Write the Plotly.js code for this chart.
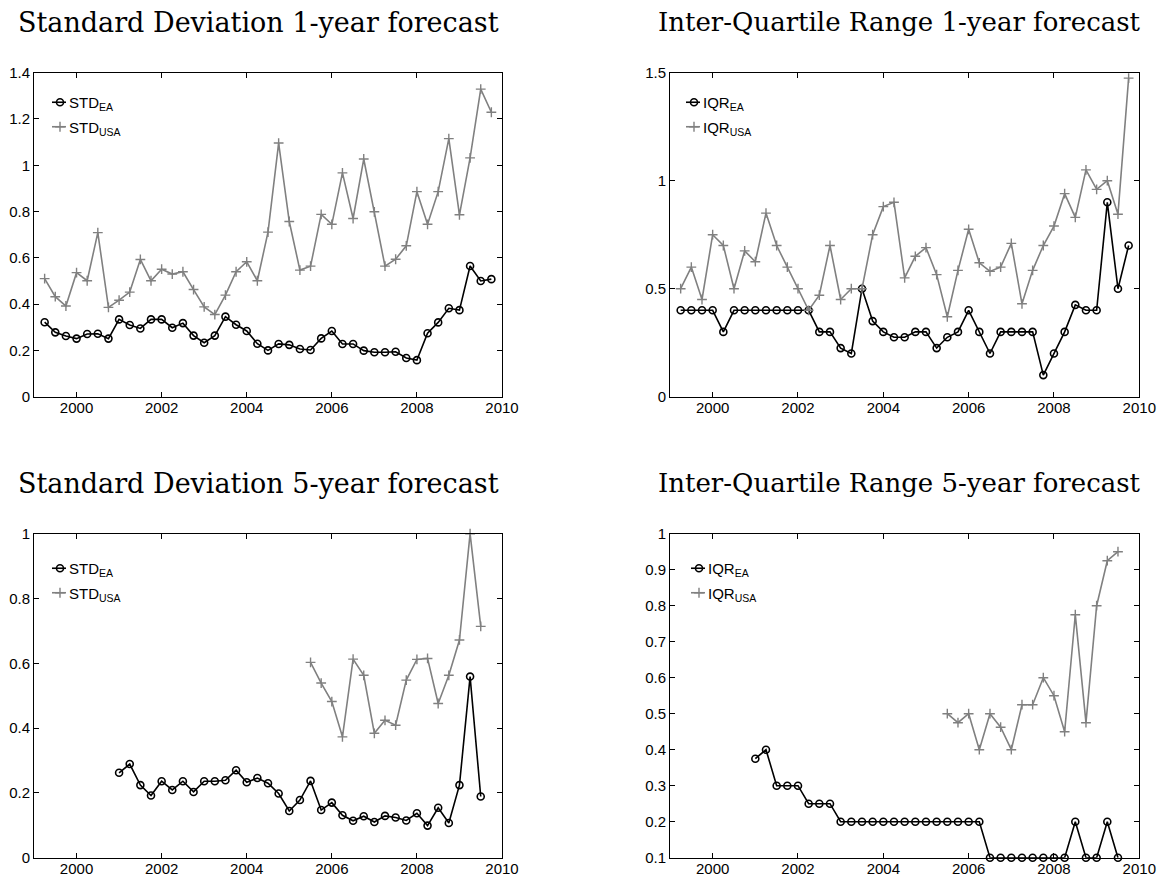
<!DOCTYPE html>
<html><head><meta charset="utf-8">
<script src="https://cdn.plot.ly/plotly-3.0.1.min.js"></script>
<style>body{margin:0;background:#fff}#c{width:1165px;height:877px}</style>
</head><body><div id="c"></div>
<script>
var quarters = [1999.25,1999.5,1999.75,2000,2000.25,2000.5,2000.75,2001,2001.25,2001.5,2001.75,
2002,2002.25,2002.5,2002.75,2003,2003.25,2003.5,2003.75,2004,2004.25,2004.5,2004.75,
2005,2005.25,2005.5,2005.75,2006,2006.25,2006.5,2006.75,2007,2007.25,2007.5,2007.75,
2008,2008.25,2008.5,2008.75,2009,2009.25,2009.5,2009.75];

var std1_ea = [0.322,0.278,0.262,0.251,0.271,0.272,0.251,0.334,0.310,0.295,0.334,0.334,0.298,0.318,0.264,0.233,0.264,0.346,0.311,0.284,0.229,0.200,0.228,
0.224,0.206,0.202,0.252,0.284,0.228,0.228,0.199,0.192,0.192,0.194,0.167,0.158,0.274,0.321,0.382,0.374,0.565,0.500,0.508];
var std1_usa = [0.510,0.432,0.392,0.536,0.501,0.709,0.386,0.417,0.452,0.593,0.501,0.551,0.530,0.540,0.463,0.388,0.355,0.439,0.540,0.583,0.501,0.711,1.096,
0.757,0.547,0.564,0.788,0.745,0.967,0.770,1.027,0.799,0.564,0.594,0.652,0.886,0.745,0.886,1.115,0.786,1.032,1.329,1.229];

var iqr1_ea = [0.4,0.4,0.4,0.4,0.3,0.4,0.4,0.4,0.4,0.4,0.4,0.4,0.4,0.3,0.3,0.225,0.2,
0.5,0.35,0.3,0.275,0.275,0.3,0.3,0.225,0.275,0.3,0.4,0.3,0.2,0.3,0.3,0.3,0.3,0.1,0.2,0.3,0.425,0.4,0.4,0.9,0.5,0.7];
var iqr1_usa = [0.5,0.6,0.45,0.75,0.7,0.5,0.675,0.625,0.85,0.7,0.6,0.5,0.4,0.47,0.7,0.45,0.5,
0.5,0.75,0.88,0.9,0.55,0.65,0.69,0.565,0.37,0.585,0.775,0.62,0.58,0.6,0.71,0.43,0.585,0.7,0.79,0.94,0.83,1.05,0.96,1.0,0.845,1.475];

// 5-year series start later (index of first value in quarters)
var std5_ea_start = 7;
var std5_ea = [0.262,0.289,0.224,0.192,0.236,0.209,0.236,0.203,0.236,0.236,0.239,0.270,0.233,0.246,0.230,0.198,
0.144,0.178,0.237,0.147,0.170,0.131,0.114,0.128,0.110,0.129,0.124,0.115,0.137,0.099,0.154,0.107,0.224,0.559,0.189];
var std5_usa_start = 25;
var std5_usa = [0.603,0.539,0.482,0.373,0.613,0.563,0.384,0.424,0.409,0.548,0.612,0.615,0.476,0.563,0.672,1.0,0.714];

var iqr5_ea_start = 7;
var iqr5_ea = [0.375,0.4,0.3,0.3,0.3,0.25,0.25,0.25,
0.2,0.2,0.2,0.2,0.2,0.2,0.2,0.2,0.2,0.2,0.2,0.2,0.2,0.2,
0.1,0.1,0.1,0.1,0.1,0.1,0.1,0.1,0.2,0.1,0.1,0.2,0.1];
var iqr5_usa_start = 25;
var iqr5_usa = [0.5,0.475,0.5,0.4,0.5,0.4625,0.4,0.525,0.525,0.6,0.55,0.45,0.775,0.475,0.8,0.925,0.95];

var titles = ['Standard Deviation 1-year forecast','Inter-Quartile Range 1-year forecast',
              'Standard Deviation 5-year forecast','Inter-Quartile Range 5-year forecast'];
var xTicks = [2000,2002,2004,2006,2008,2010];

var W = 1165, H = 877;
function px(x){return x/W;}
function py(y){return 1 - y/H;}

function eaTrace(x, y, name, ax, lg){
  return {x:x, y:y, name:name, type:'scatter', mode:'lines+markers', xaxis:'x'+ax, yaxis:'y'+ax, legend:lg,
    cliponaxis:false, legendgroup:lg+'a',
    line:{color:'#000', width:1.6},
    marker:{symbol:'circle-open', size:7, color:'#000', line:{width:1.6, color:'#000'}}};
}
function usTrace(x, y, name, ax, lg){
  return {x:x, y:y, name:name, type:'scatter', mode:'lines+markers', xaxis:'x'+ax, yaxis:'y'+ax, legend:lg,
    cliponaxis:false, legendgroup:lg+'b',
    line:{color:'#808080', width:1.6},
    marker:{symbol:'cross-thin', size:7, color:'#808080', line:{width:1.4, color:'#808080'}}};
}

var data = [
  eaTrace(quarters, std1_ea, 'STD<sub>EA</sub>', '', 'legend'),
  usTrace(quarters, std1_usa, 'STD<sub>USA</sub>', '', 'legend'),
  eaTrace(quarters, iqr1_ea, 'IQR<sub>EA</sub>', '2', 'legend2'),
  usTrace(quarters, iqr1_usa, 'IQR<sub>USA</sub>', '2', 'legend2'),
  eaTrace(quarters.slice(std5_ea_start, std5_ea_start+std5_ea.length), std5_ea, 'STD<sub>EA</sub>', '3', 'legend3'),
  usTrace(quarters.slice(std5_usa_start, std5_usa_start+std5_usa.length), std5_usa, 'STD<sub>USA</sub>', '3', 'legend3'),
  eaTrace(quarters.slice(iqr5_ea_start, iqr5_ea_start+iqr5_ea.length), iqr5_ea, 'IQR<sub>EA</sub>', '4', 'legend4'),
  usTrace(quarters.slice(iqr5_usa_start, iqr5_usa_start+iqr5_usa.length), iqr5_usa, 'IQR<sub>USA</sub>', '4', 'legend4')
];

var tickFont = {family:'Liberation Sans, Arial, sans-serif', size:15, color:'#000'};
function xa(dom, anchor){
  return {domain:dom, anchor:anchor, range:[1999,2010], tickvals:xTicks, ticks:'inside', ticklen:5,
    tickcolor:'#000', showline:true, linecolor:'#000', linewidth:1, mirror:'ticks', showgrid:false,
    zeroline:false, tickfont:tickFont, automargin:false, ticklabelstandoff:-3};
}
function ya(dom, anchor, range, dt, t0){
  return {domain:dom, anchor:anchor, range:range, dtick:dt, tick0:t0, ticks:'inside', ticklen:5,
    tickcolor:'#000', showline:true, linecolor:'#000', linewidth:1, mirror:'ticks', showgrid:false,
    zeroline:false, tickfont:tickFont, automargin:false};
}
var xL = [px(34), px(502)], xR = [px(670), px(1139.3)];
var yT = [py(396.7), py(72.7)], yB = [py(857.7), py(533.7)];

var legBase = {bgcolor:'rgba(0,0,0,0)', borderwidth:0, font:{family:'Liberation Sans, Arial, sans-serif', size:15, color:'#000'},
  xanchor:'left', yanchor:'top', tracegroupgap:2, traceorder:'grouped', itemwidth:30};

var titleFontL = {family:'DejaVu Serif, serif', size:27, color:'#000'};
var titleFontR = {family:'DejaVu Serif, serif', size:26, color:'#000'};
var layout = {
  width:W, height:H, margin:{l:0,r:0,t:0,b:0}, paper_bgcolor:'#fff', plot_bgcolor:'#fff',
  showlegend:true,
  xaxis: xa(xL, 'y'),  yaxis: ya(yT, 'x', [0,1.4], 0.2, 0),
  xaxis2: xa(xR, 'y2'), yaxis2: ya(yT, 'x2', [0,1.5], 0.5, 0),
  xaxis3: xa(xL, 'y3'), yaxis3: ya(yB, 'x3', [0,1], 0.2, 0),
  xaxis4: xa(xR, 'y4'), yaxis4: ya(yB, 'x4', [0.1,1], 0.1, 0.1),
  legend: Object.assign({}, legBase, {x:px(29), y:py(86)}),
  legend2: Object.assign({}, legBase, {x:px(663), y:py(86)}),
  legend3: Object.assign({}, legBase, {x:px(29), y:py(552)}),
  legend4: Object.assign({}, legBase, {x:px(668), y:py(552)}),
  annotations: [
    {text:titles[0], xref:'paper', yref:'paper', x:px(258), y:py(22), xanchor:'center', yanchor:'middle', showarrow:false, font:titleFontL},
    {text:titles[1], xref:'paper', yref:'paper', x:px(899), y:py(22), xanchor:'center', yanchor:'middle', showarrow:false, font:titleFontR},
    {text:titles[2], xref:'paper', yref:'paper', x:px(258), y:py(483), xanchor:'center', yanchor:'middle', showarrow:false, font:titleFontL},
    {text:titles[3], xref:'paper', yref:'paper', x:px(899), y:py(483), xanchor:'center', yanchor:'middle', showarrow:false, font:titleFontR}
  ]
};
function shortenLegendSamples(){
  var gd = document.getElementById('c');
  gd.querySelectorAll('.legendlines path').forEach(function(p){ p.setAttribute('d','M23,0h14'); });
  gd.querySelectorAll('.legendpoints path').forEach(function(p){ p.setAttribute('transform','translate(31,0)'); });
}
Plotly.newPlot('c', data, layout, {displayModeBar:false, staticPlot:true}).then(shortenLegendSamples);
</script>
</body></html>
